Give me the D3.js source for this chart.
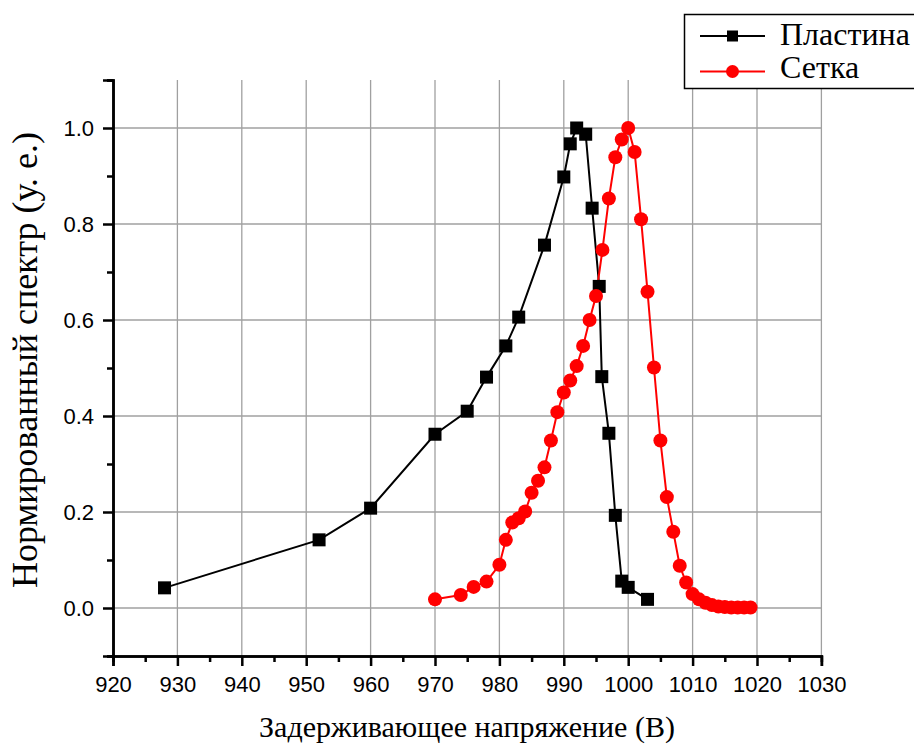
<!DOCTYPE html>
<html><head><meta charset="utf-8">
<script src="https://cdn.jsdelivr.net/npm/d3@7/dist/d3.min.js"></script>
<style>body{margin:0;background:#fff}svg{display:block}</style>
</head><body>
<svg id="chart" width="914" height="745"></svg>
<script>
const plateX = [928, 952, 960, 970, 975, 978, 981, 983, 987, 990, 991, 992, 993.4, 994.4, 995.5, 995.9, 997, 998, 999, 1000, 1003];
const plateY = [0.042, 0.142, 0.208, 0.362, 0.41, 0.481, 0.546, 0.606, 0.756, 0.898, 0.967, 1.0, 0.987, 0.833, 0.67, 0.482, 0.364, 0.193, 0.056, 0.043, 0.018];
const gridX = [970, 974, 976, 978, 980, 981, 982, 983, 984, 985, 986, 987, 988, 989, 990, 991, 992, 993, 994, 995, 996, 997, 998, 999, 1000, 1001, 1002, 1003, 1004, 1005, 1006, 1007, 1008, 1009, 1010, 1011, 1012, 1013, 1014, 1015, 1016, 1017, 1018, 1019];
const gridY = [0.018, 0.027, 0.044, 0.055, 0.09, 0.142, 0.178, 0.187, 0.201, 0.24, 0.265, 0.293, 0.349, 0.408, 0.449, 0.474, 0.504, 0.546, 0.6, 0.65, 0.746, 0.853, 0.939, 0.976, 1.0, 0.95, 0.81, 0.659, 0.501, 0.349, 0.231, 0.159, 0.088, 0.053, 0.029, 0.018, 0.011, 0.006, 0.003, 0.002, 0.001, 0.001, 0.001, 0.001];
const xTicks = [920, 930, 940, 950, 960, 970, 980, 990, 1000, 1010, 1020, 1030];
const yTicks = [0.0, 0.2, 0.4, 0.6, 0.8, 1.0];
const seriesNames = ["Пластина", "Сетка"];
const xTitle = "Задерживающее напряжение (В)";
const yTitle = "Нормированный спектр (у. е.)";

const svg = d3.select("#chart");
const x = d3.scaleLinear().domain([920, 1030]).range([113, 821.4]);
const y = d3.scaleLinear().domain([-0.1, 1.1]).range([656, 80]);
const serif = "'Liberation Serif', 'Times New Roman', serif";
const sans = "'Liberation Sans', Arial, sans-serif";

// grid
const g = svg.append("g");
g.selectAll(".gx").data(xTicks.slice(1)).join("line")
  .attr("x1", d => x(d)).attr("x2", d => x(d)).attr("y1", y(-0.1)).attr("y2", y(1.1))
  .attr("stroke", "#a0a0a0").attr("stroke-width", 1.3);
g.selectAll(".gy").data(yTicks).join("line")
  .attr("x1", x(920)).attr("x2", x(1030)).attr("y1", d => y(d)).attr("y2", d => y(d))
  .attr("stroke", "#a0a0a0").attr("stroke-width", 1.3);

// axes
const xAxis = d3.axisBottom(x).tickValues(xTicks).tickFormat(d3.format("d")).tickSize(10).tickPadding(10);
const xMinor = d3.axisBottom(x).tickValues(d3.range(925, 1030, 10)).tickFormat("").tickSize(6);
const yAxis = d3.axisLeft(y).tickValues(yTicks).tickFormat(d3.format(".1f")).tickSize(10).tickPadding(9);
const yMinor = d3.axisLeft(y).tickValues([-0.1, 0.1, 0.3, 0.5, 0.7, 0.9, 1.1]).tickFormat("").tickSize(6);

function style(sel){
  sel.select(".domain").attr("stroke", "#000").attr("stroke-width", 2.5);
  sel.selectAll(".tick line").attr("stroke", "#000").attr("stroke-width", 2.5);
  sel.selectAll(".tick text").attr("font-family", sans).attr("font-size", 22).attr("fill", "#000");
}
svg.append("g").attr("transform", `translate(0,${y(-0.1)})`).call(xMinor).call(style);
svg.append("g").attr("transform", `translate(0,${y(-0.1)})`).call(xAxis).call(style);
svg.append("g").attr("transform", `translate(${x(920)},0)`).call(yMinor).call(style);
svg.append("g").attr("transform", `translate(${x(920)},0)`).call(yAxis).call(style);

// titles
svg.append("text").attr("x", 467).attr("y", 737).attr("text-anchor", "middle")
  .attr("font-family", serif).attr("font-size", 30).text(xTitle);
svg.append("text").attr("transform", "translate(37,360) rotate(-90)").attr("text-anchor", "middle")
  .attr("font-family", serif).attr("font-size", 36).text(yTitle);

// series
const plate = plateX.map((v, i) => [v, plateY[i]]);
const grid = gridX.map((v, i) => [v, gridY[i]]);
const line = d3.line().x(d => x(d[0])).y(d => y(d[1]));

svg.append("path").datum(plate).attr("d", line).attr("fill", "none").attr("stroke", "#000").attr("stroke-width", 2);
svg.append("path").datum(grid).attr("d", line).attr("fill", "none").attr("stroke", "#ff0000").attr("stroke-width", 2);

svg.selectAll(".sq").data(plate).join("rect")
  .attr("x", d => x(d[0]) - 6.5).attr("y", d => y(d[1]) - 6.5).attr("width", 13).attr("height", 13).attr("fill", "#000");
svg.selectAll(".ci").data(grid).join("circle")
  .attr("cx", d => x(d[0])).attr("cy", d => y(d[1])).attr("r", 7).attr("fill", "#ff0000");

// legend
const lg = svg.append("g");
lg.append("rect").attr("x", 684.5).attr("y", 14.5).attr("width", 240).attr("height", 74)
  .attr("fill", "#fff").attr("stroke", "#000").attr("stroke-width", 1.5);
const legendColors = ["#000", "#ff0000"];
seriesNames.forEach((name, i) => {
  const cy = 36 + i * 35.5;
  lg.append("line").attr("x1", 700).attr("x2", 765).attr("y1", cy).attr("y2", cy)
    .attr("stroke", legendColors[i]).attr("stroke-width", 2);
  if (i === 0) lg.append("rect").attr("x", 727).attr("y", cy - 5.5).attr("width", 11).attr("height", 11).attr("fill", "#000");
  else lg.append("circle").attr("cx", 732.5).attr("cy", cy).attr("r", 6.5).attr("fill", "#ff0000");
  lg.append("text").attr("x", 780).attr("y", i === 0 ? 44.5 : 78).attr("font-family", serif)
    .attr("font-size", 32).text(name);
});
</script>
</body></html>
